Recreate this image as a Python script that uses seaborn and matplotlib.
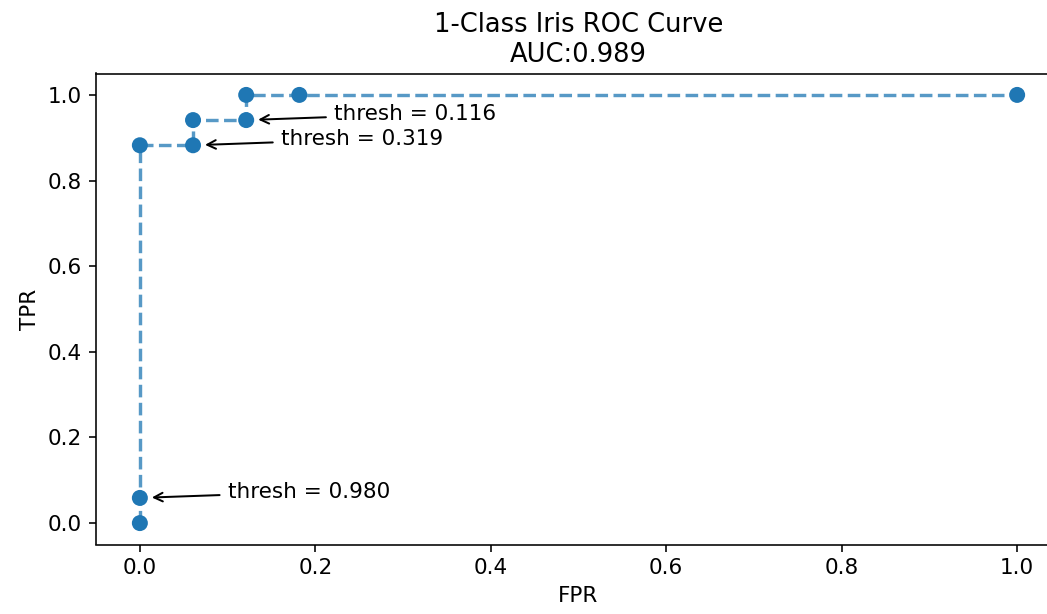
import matplotlib
matplotlib.use('Agg')
import matplotlib.pyplot as plt
import seaborn as sns
import pandas as pd

# ROC points (17 positives, 33 negatives)
fpr = [0.0, 0.0, 0.0, 0.0606, 0.0606, 0.1212, 0.1212, 0.1818, 1.0]
tpr = [0.0, 0.0588, 0.8824, 0.8824, 0.9412, 0.9412, 1.0, 1.0, 1.0]
thresh_idx = [1, 3, 5]
thresh_vals = [0.980, 0.319, 0.116]
auc = 0.989

df = pd.DataFrame({'FPR': fpr, 'TPR': tpr})

plt.rcParams['font.size'] = 10.75

fig = plt.figure(figsize=(1047 / 144, 614 / 144), dpi=144)
ax = fig.add_axes([96 / 1047, 1 - 544.5 / 614, (1061 - 96) / 1047, (544.5 - 73.5) / 614])

sns.lineplot(data=df, x='FPR', y='TPR', sort=False, estimator=None, ax=ax,
             linestyle='--', linewidth=1.7, color='C0', alpha=0.75)
sns.scatterplot(data=df, x='FPR', y='TPR', ax=ax, color='C0', s=64,
                edgecolor='none', zorder=3)

for i, t in zip(thresh_idx, thresh_vals):
    ax.annotate(f'thresh = {t:.3f}', xy=(fpr[i], tpr[i]),
                xytext=(fpr[i] + 0.1, tpr[i]),
                arrowprops=dict(arrowstyle='->', color='black', shrinkB=6))

ax.set_xlim(-0.05, 1.05)
ax.set_ylim(-0.05, 1.05)
ax.set_title(f'1-Class Iris ROC Curve\nAUC:{auc:.3f}')
ax.set_xlabel('FPR')
ax.set_ylabel('TPR')

fig.savefig('out.png', dpi=144)
